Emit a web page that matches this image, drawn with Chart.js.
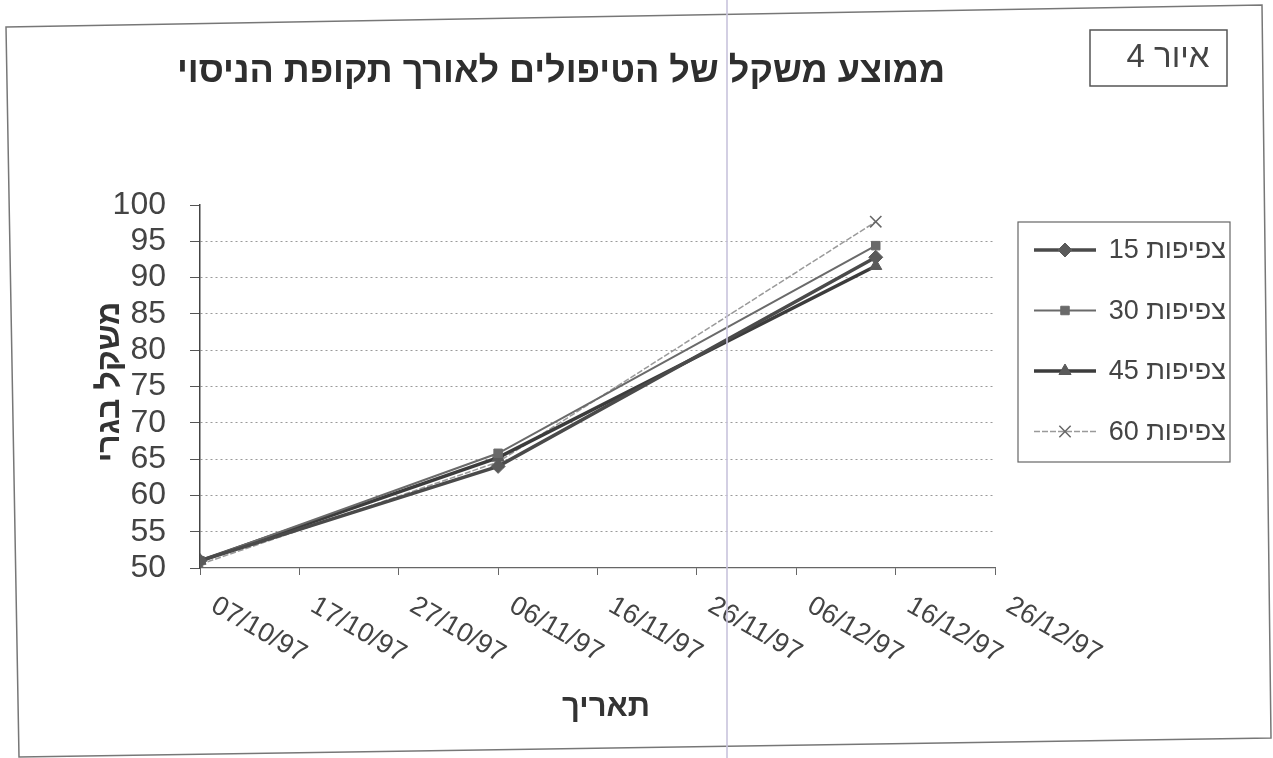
<!DOCTYPE html>
<html lang="he">
<head>
<meta charset="utf-8">
<title>איור 4</title>
<script src="https://cdn.jsdelivr.net/npm/chart.js@4.4.1/dist/chart.umd.min.js"></script>
<style>
  html, body { margin: 0; padding: 0; background: #fff; }
  #wrap { width: 1273px; height: 758px; }
</style>
</head>
<body>
<div id="wrap"><canvas id="grafico" width="1273" height="758"></canvas></div>
<script>
// fechas del eje x (cada 10 dias) y fechas de medicion
const fechasEje = ['07/10/97', '17/10/97', '27/10/97', '06/11/97', '16/11/97', '26/11/97', '06/12/97', '16/12/97', '26/12/97'];
const fechasMedicion = ['07/10/97', '06/11/97', '14/12/97'];

const nombresSeries = ['צפיפות 15', 'צפיפות 30', 'צפיפות 45', 'צפיפות 60'];
const peso15 = [51, 64, 92.8];
const peso30 = [51, 65.8, 94.4];
const peso45 = [51, 65.2, 91.6];
const peso60 = [50.5, 64.6, 97.7];

const yMin = 50, yMax = 100, yPaso = 5;

const titulo = 'ממוצע משקל של הטיפולים לאורך תקופת הניסוי';
const tituloY = 'משקל בגרי';
const tituloX = 'תאריך';
const etiquetaFigura = 'איור 4';

const FUENTE = '"Liberation Sans", Arial, sans-serif';

function aDia(f) {
  const [d, m, a] = f.split('/').map(Number);
  return Date.UTC(1900 + a, m - 1, d) / 86400000;
}
const dia0 = aDia(fechasEje[0]);
const diaFin = aDia(fechasEje[fechasEje.length - 1]);
const puntos = vals => fechasMedicion.map((f, i) => ({ x: aDia(f) - dia0, y: vals[i] }));

const estilos = [
  { color: '#4a4a4a', ancho: 3.5, dash: [], punto: 'rectRot', radio: 7, relleno: '#5a5a5a' },
  { color: '#6a6a6a', ancho: 2, dash: [], punto: 'rect', radio: 6, relleno: '#6a6a6a' },
  { color: '#3c3c3c', ancho: 3.5, dash: [], punto: 'triangle', radio: 7, relleno: '#5a5a5a' },
  { color: '#9a9a9a', ancho: 1.5, dash: [6, 2], punto: 'crossRot', radio: 8, relleno: '#666' }
];
const valores = [peso15, peso30, peso45, peso60];

const datasets = valores.map((v, i) => ({
  label: nombresSeries[i],
  data: puntos(v),
  borderColor: estilos[i].color,
  borderWidth: estilos[i].ancho,
  borderDash: estilos[i].dash,
  pointStyle: estilos[i].punto,
  pointRadius: estilos[i].radio,
  pointBackgroundColor: estilos[i].relleno,
  pointBorderColor: estilos[i].relleno,
  pointBorderWidth: i === 3 ? 1.5 : 1,
  tension: 0
}));

const dibujo = {
  id: 'dibujo',
  beforeDraw(chart) {
    const ctx = chart.ctx;
    ctx.save();
    ctx.fillStyle = '#fff';
    ctx.fillRect(0, 0, chart.width, chart.height);
    // marco del grafico (ligeramente torcido como el escaneo)
    ctx.strokeStyle = '#777';
    ctx.lineWidth = 1.5;
    ctx.beginPath();
    ctx.moveTo(6, 27); ctx.lineTo(1262, 5); ctx.lineTo(1271, 738); ctx.lineTo(19, 757);
    ctx.closePath();
    ctx.stroke();
    ctx.restore();
  },
  afterDraw(chart) {
    const ctx = chart.ctx;
    const xs = chart.scales.x, area = chart.chartArea;
    ctx.save();

    // titulo
    ctx.direction = 'rtl';
    ctx.fillStyle = '#2e2e2e';
    ctx.font = 'bold 36px ' + FUENTE;
    ctx.textAlign = 'center';
    ctx.textBaseline = 'middle';
    ctx.fillText(titulo, 561, 72);

    // caja "איור 4"
    ctx.strokeStyle = '#555';
    ctx.lineWidth = 1.5;
    ctx.strokeRect(1090, 30, 137, 56);
    ctx.font = '33px ' + FUENTE;
    ctx.fillStyle = '#444';
    ctx.fillText(etiquetaFigura, 1168, 58);

    // titulos de ejes
    ctx.fillStyle = '#333';
    ctx.font = 'bold 31px ' + FUENTE;
    ctx.fillText(tituloX, 606, 707);
    ctx.save();
    ctx.translate(110, 382);
    ctx.rotate(-Math.PI / 2);
    ctx.font = 'bold 32px ' + FUENTE;
    ctx.fillText(tituloY, 0, 0);
    ctx.restore();

    // etiquetas de fecha giradas
    ctx.direction = 'ltr';
    ctx.font = '27px ' + FUENTE;
    ctx.textAlign = 'left';
    ctx.textBaseline = 'top';
    ctx.fillStyle = '#444';
    xs.ticks.forEach((t, i) => {
      const px = xs.getPixelForValue(t.value);
      ctx.save();
      ctx.translate(px + 20, area.bottom + 24);
      ctx.rotate(Math.PI / 6);
      ctx.fillText(fechasEje[i], 0, 0);
      ctx.restore();
    });

    // leyenda
    const lx = 1018, ly = 222, lw = 212, lh = 240;
    ctx.strokeStyle = '#666';
    ctx.lineWidth = 1.2;
    ctx.strokeRect(lx, ly, lw, lh);
    ctx.font = '27px ' + FUENTE;
    ctx.textAlign = 'right';
    ctx.textBaseline = 'middle';
    chart.data.datasets.forEach((ds, i) => {
      const y = ly + 28 + i * 60.5;
      ctx.strokeStyle = ds.borderColor;
      ctx.lineWidth = ds.borderWidth;
      ctx.setLineDash(ds.borderDash);
      ctx.beginPath();
      ctx.moveTo(lx + 16, y); ctx.lineTo(lx + 78, y);
      ctx.stroke();
      ctx.setLineDash([]);
      ctx.fillStyle = ds.pointBackgroundColor;
      ctx.strokeStyle = ds.pointBorderColor;
      ctx.lineWidth = ds.pointBorderWidth;
      Chart.helpers.drawPoint(ctx, { pointStyle: ds.pointStyle, radius: ds.pointRadius, rotation: 0, borderWidth: ds.pointBorderWidth }, lx + 47, y);
      ctx.fillStyle = '#444';
      ctx.direction = 'rtl';
      ctx.fillText(ds.label, lx + lw - 4, y + 1);
    });

    // linea del escaner
    ctx.strokeStyle = 'rgba(200,195,220,0.8)';
    ctx.lineWidth = 2;
    ctx.beginPath();
    ctx.moveTo(727, 0); ctx.lineTo(727, chart.height);
    ctx.stroke();
    ctx.restore();
  }
};

new Chart(document.getElementById('grafico'), {
  type: 'line',
  data: { datasets },
  options: {
    responsive: false,
    animation: false,
    layout: { padding: { top: 205, right: 278, left: 0, bottom: 0 } },
    plugins: { legend: { display: false }, tooltip: { enabled: false } },
    scales: {
      x: {
        type: 'linear',
        min: 0,
        max: diaFin - dia0,
        afterFit: s => { s.height = 190; },
        ticks: { display: false, stepSize: 10, autoSkip: false },
        grid: { drawOnChartArea: false, drawTicks: true, tickLength: 7, tickColor: '#666', tickWidth: 1 },
        border: { display: true, color: '#666', width: 1.2 }
      },
      y: {
        min: yMin,
        max: yMax,
        afterFit: s => { s.width = 200; },
        ticks: { stepSize: yPaso, autoSkip: false, padding: 24, color: '#444', font: { family: FUENTE, size: 32 } },
        grid: {
          color: c => (c.tick && (c.tick.value === yMin || c.tick.value === yMax)) ? 'rgba(0,0,0,0)' : '#9a9a9a',
          lineWidth: 1,
          tickLength: 10,
          tickColor: '#555',
          tickBorderDash: [],
          tickWidth: 1
        },
        border: { display: true, color: '#444', width: 1.5, dash: [2, 3] }
      }
    }
  },
  plugins: [dibujo]
});
</script>
</body>
</html>
